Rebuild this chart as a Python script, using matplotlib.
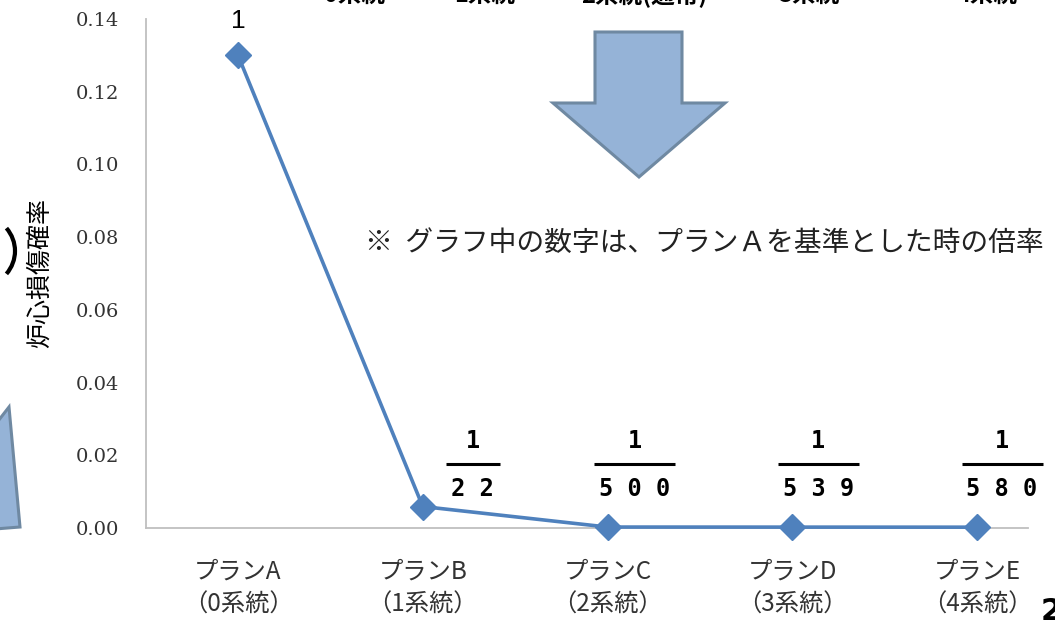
import matplotlib
matplotlib.use("Agg")
import matplotlib.pyplot as plt
from matplotlib.patches import Polygon, Arc
from matplotlib.lines import Line2D
import matplotlib.transforms as mtransforms

# ---------------- data ----------------
plans = ["プランA", "プランB", "プランC", "プランD", "プランE"]
systems = ["（0系統）", "（1系統）", "（2系統）", "（3系統）", "（4系統）"]
cdf = [0.13, 0.0059, 0.00026, 0.00024, 0.000224]
ratio = [1, 22, 500, 539, 580]
yticks = [0.00, 0.02, 0.04, 0.06, 0.08, 0.10, 0.12, 0.14]
top_labels = ["0系統", "1系統", "2系統(通常)", "3系統", "4系統"]

ylabel = "炉心損傷確率"
note = "※  グラフ中の数字は、プランＡを基準とした時の倍率"

# ---------------- layout ----------------
W, H = 1055, 622
JP = ["Noto Sans CJK JP", "DejaVu Sans"]
LINE = "#4f81bd"
AX_GRAY = "#bfbfbf"
PT = 0.72  # points per pixel at 100 dpi

fig = plt.figure(figsize=(W / 100, H / 100), dpi=100)
ax = fig.add_axes([146 / W, 1 - 528 / H, (1028 - 146) / W, (528 - 19) / H])

x = list(range(len(plans)))
ax.plot(x, cdf, color=LINE, lw=2.6, marker="D", ms=13, mec=LINE, mfc=LINE,
        zorder=3, clip_on=False)

ax.set_xlim(-0.498, 4.276)
ax.set_ylim(0, 0.14)
ax.set_yticks(yticks)
ax.set_yticklabels([f"{v:.2f}" for v in yticks], family="DejaVu Serif",
                   fontsize=14, color="#333333")
ax.set_xticks(x)
ax.set_xticklabels([f"{p}\n{s}" for p, s in zip(plans, systems)],
                   family=JP, fontsize=17.5, color="#333333", linespacing=1.35)
ax.tick_params(axis="both", length=0)
ax.tick_params(axis="y", pad=19)
ax.tick_params(axis="x", pad=22)
for s in ("top", "right"):
    ax.spines[s].set_visible(False)
for s in ("left", "bottom"):
    ax.spines[s].set_color(AX_GRAY)
    ax.spines[s].set_linewidth(1.3)

ax.set_ylabel(ylabel, family=JP, fontsize=18, color="black")
ax.yaxis.set_label_coords((53 - 146) / 882, 0.5)

# ratio annotations
ax.annotate(str(ratio[0]), (x[0], cdf[0]), xytext=(0, 25), textcoords="offset points",
            ha="center", va="center", fontsize=19, family="Liberation Sans", color="black")

xoff_px = [0, 50, 27, 26, 25]
for i in range(1, len(plans)):
    den = " ".join(str(ratio[i]))
    nd = len(str(ratio[i]))
    ax.annotate("1", (x[i], 0), xytext=(xoff_px[i] * PT, 87 * PT), textcoords="offset points",
                ha="center", va="center", fontsize=17, family="DejaVu Sans Mono",
                fontweight="bold", color="black")
    ax.annotate(den, (x[i], 0), xytext=(xoff_px[i] * PT, 39 * PT), textcoords="offset points",
                ha="center", va="center", fontsize=17, family="DejaVu Sans Mono",
                fontweight="bold", color="black")
    half = (nd * 27) / 2 * PT
    seg = mtransforms.offset_copy(ax.transData, fig=fig, x=xoff_px[i] * PT - half, y=64 * PT, units="points")
    seg2 = mtransforms.offset_copy(ax.transData, fig=fig, x=xoff_px[i] * PT + half, y=64 * PT, units="points")
    p1 = seg.transform((x[i], 0))
    p2 = seg2.transform((x[i], 0))
    fig.add_artist(Line2D([p1[0], p2[0]], [p1[1], p2[1]], transform=None,
                          color="black", lw=2.2, solid_capstyle="butt"))

# note text
fig.text(365 / W, 1 - 243 / H, note, family=JP, fontsize=20, ha="left", va="center",
         color="#222222")

# ---------------- decorations (figure pixel coords) ----------------
def P(pts):
    return [(px / W, 1 - py / H) for px, py in pts]

arrow = P([(595, 32), (682, 32), (682, 103), (725, 103), (639, 177),
           (553, 103), (595, 103)])
fig.add_artist(Polygon(arrow, closed=True, transform=fig.transFigure,
                       facecolor="#95b3d7", edgecolor="#6f89a2", lw=2.2, zorder=5))

left_shape = P([(-5, 425), (9, 407), (20, 527), (-5, 529)])
fig.add_artist(Polygon(left_shape, closed=True, transform=fig.transFigure,
                       facecolor="#95b3d7", edgecolor="#6f89a2", lw=2.2, zorder=5))

arc = Arc(((-25) / W, 1 - 251 / H), 80 / W, 74 / H, theta1=-51, theta2=51,
          transform=fig.transFigure, color="black", lw=3)
fig.add_artist(arc)

top_x = [355, 485, 644, 809, 987]
for tx, tl in zip(top_x, top_labels):
    fig.text(tx / W, 1 + 5 / H, tl, family=JP, fontsize=17, fontweight="bold",
             ha="center", va="center", color="black")

fig.text(1041 / W, 1 - 612 / H, "2", family="DejaVu Sans", fontsize=22,
         fontweight="bold", ha="left", va="center", color="black")

fig.savefig("out.png", dpi=100)
